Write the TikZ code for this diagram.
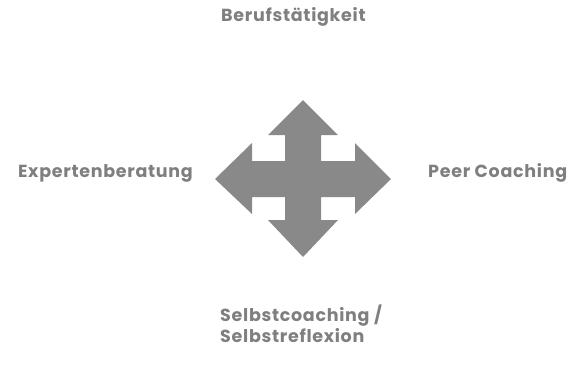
\documentclass[tikz,border=0pt]{standalone}
\usepackage{fontspec}
\setmainfont{Poppins}[LetterSpace=4]
\definecolor{txtgray}{HTML}{7F7F7F}
\definecolor{arrgray}{HTML}{898989}
\begin{document}
\begin{tikzpicture}[x=1pt,y=-1pt,
  lbl/.style={inner sep=0pt,text=txtgray,font=\fontsize{17.5}{21}\selectfont\bfseries}]
\useasboundingbox (0,0) rectangle (581,373);
\fill[arrgray] (303,100) -- (338,135) -- (321,135) -- (321,161) -- (355,161) -- (355,143)
 -- (391,179) -- (355,214) -- (355,197) -- (321,197) -- (321,220) -- (338,220)
 -- (303,257) -- (268,220) -- (285,220) -- (285,197) -- (252,197) -- (252,214)
 -- (215,179) -- (252,143) -- (252,161) -- (285,161) -- (285,135) -- (268,135) -- cycle;
\node[lbl,anchor=base west] (top) at (221,21) {Berufstätigkeit};
\node[lbl,anchor=base east] (left) at (193,177) {Expertenberatung};
\node[lbl,anchor=base west] (right) at (428,177) {Peer Coaching};
\node[lbl,anchor=base west,align=left] (bottom) at (220,342) {Selbstcoaching /\\Selbstreflexion};
\end{tikzpicture}
\end{document}
